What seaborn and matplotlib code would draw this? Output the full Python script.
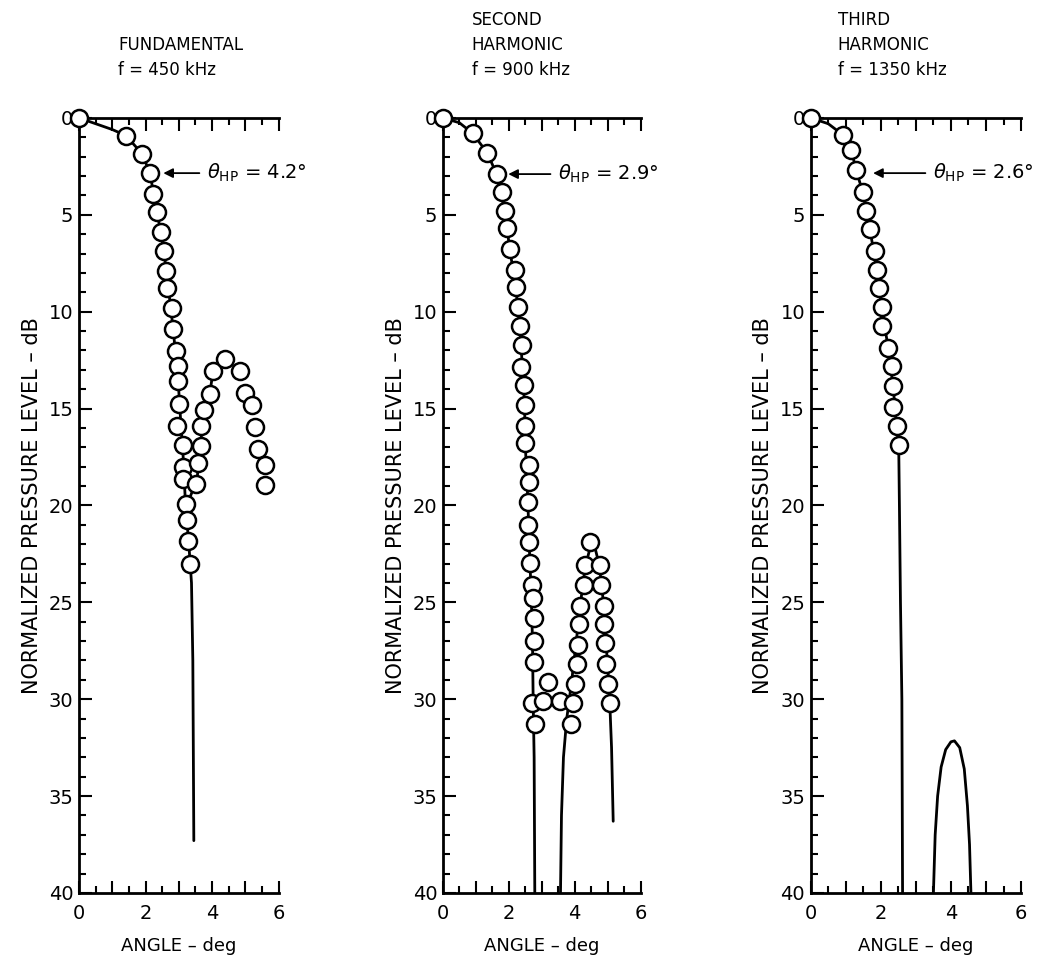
import numpy as np
import pandas as pd
import matplotlib
matplotlib.use('Agg')
import matplotlib.pyplot as plt
import seaborn as sns
from matplotlib.ticker import MultipleLocator

sns.set_theme(style='ticks')
plt.rcParams['font.family'] = ['DejaVu Sans']
plt.rcParams['text.color'] = 'black'
plt.rcParams['axes.labelcolor'] = 'black'

# ---------------- measured points (angle deg, level dB) ----------------
fund_pts_x = [0, 1.41, 1.90, 2.13, 2.23, 2.35, 2.45, 2.55, 2.60, 2.63, 2.78, 2.83,
              2.90, 2.96, 2.98, 3.00, 2.95, 3.13, 3.11, 3.13, 3.20, 3.23, 3.28, 3.35,
              3.53, 3.58, 3.68, 3.68, 3.75, 3.93, 4.03, 4.38, 4.83, 4.98, 5.20, 5.30,
              5.38, 5.58, 5.60]
fund_pts_y = [0, 0.91, 1.86, 2.85, 3.92, 4.88, 5.91, 6.89, 7.89, 8.78, 9.79, 10.9,
              12.05, 12.8, 13.6, 14.74, 15.9, 16.86, 18.0, 18.66, 19.95, 20.76, 21.84, 23.04,
              18.87, 17.8, 16.94, 15.9, 15.09, 14.23, 13.07, 12.44, 13.07, 14.19, 14.8, 15.95,
              17.08, 17.89, 18.97]

second_pts_x = [0, 0.90, 1.34, 1.63, 1.78, 1.88, 1.96, 2.03, 2.20, 2.21, 2.28, 2.33,
                2.40, 2.36, 2.45, 2.48, 2.48, 2.48, 2.62, 2.62, 2.59, 2.59, 2.62, 2.64,
                2.69, 2.74, 2.77, 2.77, 2.77, 2.70, 2.80,
                3.20, 3.05, 3.55, 3.88, 3.95, 4.02, 4.06,
                4.10, 4.13, 4.15, 4.27, 4.32, 4.48, 4.78, 4.81, 4.88, 4.88, 4.91, 4.96,
                5.02, 5.08]
second_pts_y = [0, 0.79, 1.79, 2.89, 3.85, 4.83, 5.69, 6.77, 7.84, 8.73, 9.76, 10.75,
                11.7, 12.85, 13.8, 14.8, 15.9, 16.8, 17.9, 18.8, 19.8, 21.0, 21.9, 22.95,
                24.1, 24.8, 25.8, 27.0, 28.1, 30.2, 31.3,
                29.1, 30.1, 30.1, 31.3, 30.2, 29.2, 28.2,
                27.2, 26.1, 25.2, 24.1, 23.1, 21.9, 23.1, 24.1, 25.2, 26.1, 27.1, 28.2,
                29.2, 30.2]

third_pts_x = [0, 0.92, 1.16, 1.29, 1.49, 1.57, 1.69, 1.83, 1.88, 1.95, 2.02, 2.02,
               2.21, 2.31, 2.35, 2.35, 2.47, 2.51]
third_pts_y = [0, 0.88, 1.65, 2.68, 3.85, 4.83, 5.74, 6.89, 7.84, 8.78, 9.76, 10.75,
               11.87, 12.82, 13.85, 14.91, 15.88, 16.9]

# ---------------- theoretical curves (segments) ----------------
fund_curve = [
    ([0, 0.5, 1.0, 1.41, 1.90, 2.13, 2.35, 2.55, 2.70, 2.83, 2.98, 3.05, 3.13, 3.20,
      3.30, 3.38, 3.42, 3.45],
     [0, 0.3, 0.6, 0.91, 1.86, 2.85, 4.88, 6.89, 9.0, 10.9, 13.6, 15.5, 17.5, 19.95,
      22.0, 24.0, 28.0, 37.3]),
    ([3.28, 3.40, 3.53, 3.62, 3.70, 3.80, 3.93, 4.03],
     [19.8, 19.3, 18.87, 17.5, 16.0, 14.8, 14.2, 13.07]),
]
second_curve = [
    ([0, 0.5, 0.90, 1.34, 1.63, 1.88, 2.03, 2.21, 2.33, 2.40, 2.48, 2.50, 2.58, 2.62,
      2.68, 2.72, 2.74, 2.77, 2.79],
     [0, 0.25, 0.79, 1.79, 2.89, 4.83, 6.77, 8.73, 10.7, 12.5, 14.8, 16.8, 19.8, 22.0,
      24.5, 27.0, 30.0, 33.0, 40.0]),
    ([3.57, 3.60, 3.66, 3.76, 3.90, 4.05, 4.18, 4.32, 4.48, 4.62, 4.75, 4.86, 4.95,
      5.05, 5.12, 5.17],
     [40.0, 36.0, 33.0, 31.0, 29.2, 27.0, 25.0, 23.2, 22.1, 22.2, 23.1, 24.8, 27.0,
      29.5, 32.5, 36.3]),
]
third_curve = [
    ([0, 0.5, 0.92, 1.16, 1.29, 1.49, 1.69, 1.88, 2.02, 2.21, 2.35, 2.45, 2.51, 2.53,
      2.56, 2.60, 2.62],
     [0, 0.3, 0.88, 1.65, 2.68, 3.85, 5.74, 7.84, 9.76, 11.87, 13.85, 15.9, 16.9, 20.0,
      25.0, 30.0, 40.0]),
    ([3.50, 3.55, 3.62, 3.72, 3.85, 4.00, 4.10, 4.25, 4.38, 4.47, 4.53, 4.57],
     [40.0, 37.0, 35.0, 33.5, 32.6, 32.2, 32.15, 32.5, 33.6, 35.5, 37.5, 40.0]),
]

titles = ['FUNDAMENTAL\nf = 450 kHz',
          'SECOND\nHARMONIC\nf = 900 kHz',
          'THIRD\nHARMONIC\nf = 1350 kHz']
title_x = [1.17, 0.88, 0.77]
hp_labels = [r'$\theta_{\rm HP}$ = 4.2°', r'$\theta_{\rm HP}$ = 2.9°', r'$\theta_{\rm HP}$ = 2.6°']
hp_arrow = [(2.45, 3.7), (1.90, 3.35), (1.70, 3.35)]   # arrow head / tail angle
hp_level = [2.85, 2.9, 2.85]

x_ticks = [0, 1, 2, 3, 4, 5, 6]
x_tick_labels = ['0', '', '2', '', '4', '', '6']
y_ticks = [0, 5, 10, 15, 20, 25, 30, 35, 40]

panels = [
    (fund_pts_x, fund_pts_y, fund_curve),
    (second_pts_x, second_pts_y, second_curve),
    (third_pts_x, third_pts_y, third_curve),
]

# axes boxes in figure fraction (left, bottom, width, height)
boxes = [(0.0747, 0.0737, 0.189, 0.804),
         (0.419, 0.0737, 0.187, 0.804),
         (0.767, 0.0737, 0.199, 0.804)]

fig = plt.figure(figsize=(10.57, 9.64), dpi=100)

for i, (px, py, curves) in enumerate(panels):
    ax = fig.add_axes(boxes[i])
    for cx, cy in curves:
        sns.lineplot(x=cx, y=cy, sort=False, estimator=None, color='black',
                     linewidth=2.0, ax=ax, legend=False)
    sns.scatterplot(x=px, y=py, ax=ax, s=150, facecolor='white', edgecolor='black',
                    linewidth=1.8, zorder=5, clip_on=False, legend=False)

    ax.set_xlim(0, 6)
    ax.set_ylim(40, 0)
    ax.set_xticks(x_ticks, x_tick_labels)
    ax.set_yticks(y_ticks)
    ax.xaxis.set_minor_locator(MultipleLocator(0.5))
    ax.yaxis.set_minor_locator(MultipleLocator(1))
    ax.tick_params(which='both', direction='in', top=True, right=False,
                   labelsize=14, width=1.5, colors='black')
    ax.tick_params(which='major', length=9)
    ax.tick_params(which='minor', length=5)
    ax.tick_params(axis='x', pad=8)
    ax.tick_params(axis='y', pad=4)
    for side in ['left', 'bottom', 'top']:
        ax.spines[side].set_linewidth(2)
        ax.spines[side].set_color('black')
    ax.spines['right'].set_visible(False)

    ax.set_xlabel('ANGLE – deg', fontsize=13, labelpad=10)
    ax.set_ylabel('NORMALIZED PRESSURE LEVEL – dB', fontsize=15, labelpad=5)

    ax.text(title_x[i], -2.0, titles[i], fontsize=12, ha='left', va='bottom',
            linespacing=1.5)

    head, tail = hp_arrow[i]
    ax.annotate('', xy=(head, hp_level[i]), xytext=(tail, hp_level[i]),
                arrowprops=dict(arrowstyle='-|>', color='black', lw=1.3,
                                mutation_scale=14))
    ax.text(tail + 0.15, hp_level[i], hp_labels[i], fontsize=14, ha='left',
            va='center', clip_on=False)

fig.savefig('out.png', dpi=100)
